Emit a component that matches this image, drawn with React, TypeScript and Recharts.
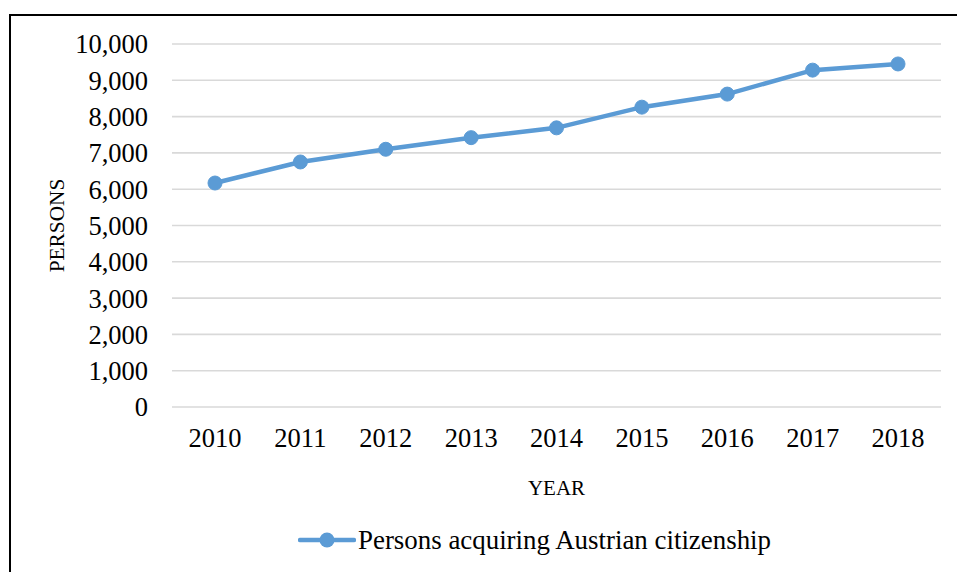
import { LineChart, Line, XAxis, YAxis, CartesianGrid, Legend, Label } from 'recharts';

const years = ['2010', '2011', '2012', '2013', '2014', '2015', '2016', '2017', '2018'];
const persons = [6170, 6750, 7100, 7420, 7690, 8260, 8620, 9280, 9450];
const yTicks = [0, 1000, 2000, 3000, 4000, 5000, 6000, 7000, 8000, 9000, 10000];
const seriesName = 'Persons acquiring Austrian citizenship';

const data = years.map((year, i) => ({ year, persons: persons[i] }));

const FONT = "'Liberation Serif', 'Times New Roman', serif";
const BLUE = '#5B9BD5';

function YLabel({ viewBox }: any) {
  const x = viewBox.x + 17;
  const cy = viewBox.y + viewBox.height / 2;
  return (
    <text
      x={x}
      y={cy}
      transform={`rotate(-90, ${x}, ${cy})`}
      textAnchor="middle"
      dominantBaseline="central"
      fontFamily={FONT}
      fontSize={21.3}
      fill="#000"
    >
      PERSONS
    </text>
  );
}

function LegendContent() {
  return (
    <div style={{ display: 'flex', alignItems: 'center', height: 30, fontFamily: FONT, fontSize: 26.9, color: '#000' }}>
      <svg width={58} height={20}>
        <line x1={2} y1={10} x2={56} y2={10} stroke={BLUE} strokeWidth={4.5} strokeLinecap="round" />
        <circle cx={29} cy={10} r={7.5} fill={BLUE} />
      </svg>
      <span style={{ marginLeft: 2, whiteSpace: 'nowrap' }}>{seriesName}</span>
    </div>
  );
}

export default function App() {
  return (
    <div style={{ position: 'absolute', left: 0, top: 0, width: 957, height: 572, overflow: 'hidden', background: '#fff' }}>
      <div
        style={{
          position: 'absolute',
          left: 9,
          top: 14,
          width: 1000,
          height: 700,
          border: '2px solid #000',
          boxSizing: 'border-box',
        }}
      />
      <div style={{ position: 'absolute', left: 0, top: 0 }}>
        <LineChart width={957} height={572} data={data} margin={{ top: 44, right: 16, bottom: 65, left: 40 }}>
          <CartesianGrid vertical={false} stroke="#D9D9D9" strokeWidth={1.6} />
          <XAxis
            dataKey="year"
            axisLine={false}
            tickLine={false}
            tickSize={6}
            tickMargin={15}
            height={100}
            padding={{ left: 43, right: 43 }}
            tick={{ fill: '#000', fontSize: 26.5, fontFamily: FONT }}
          >
            <Label value="YEAR" position="insideBottom" offset={12} fill="#000" fontSize={21} fontFamily={FONT} />
          </XAxis>
          <YAxis
            width={132}
            domain={[0, 10000]}
            ticks={yTicks}
            axisLine={false}
            tickLine={false}
            tickSize={6}
            tickMargin={18}
            tickFormatter={(v: number) => v.toLocaleString('en-US')}
            tick={{ fill: '#000', fontSize: 26.5, fontFamily: FONT }}
          >
            <Label content={<YLabel />} />
          </YAxis>
          <Legend
            verticalAlign="middle"
            content={<LegendContent />}
            wrapperStyle={{ top: 525, left: 298, width: 'auto', height: 30 }}
          />
          <Line
            type="linear"
            dataKey="persons"
            name={seriesName}
            stroke={BLUE}
            strokeWidth={4.5}
            dot={{ r: 7, fill: BLUE, stroke: BLUE, strokeWidth: 1 }}
            activeDot={false}
            isAnimationActive={false}
          />
        </LineChart>
      </div>
    </div>
  );
}
